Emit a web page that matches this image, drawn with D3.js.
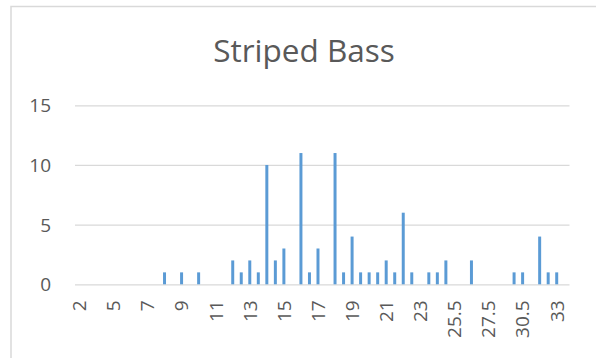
<!DOCTYPE html>
<html>
<head>
<meta charset="utf-8">
<script src="https://cdn.jsdelivr.net/npm/d3@7"></script>
<style>
  html, body { margin: 0; padding: 0; background: #fff; }
  svg { display: block; }
</style>
</head>
<body>
<svg id="chart" width="596" height="358"></svg>
<script>
// Length classes (category labels) and fish counts per class
const categories = [2, 3, 4, 4.5, 5, 5.5, 6, 6.5, 7, 7.5, 8, 8.5, 9, 9.5, 10, 10.5,
  11, 11.5, 12, 12.5, 13, 13.5, 14, 14.5, 15, 15.5, 16, 16.5, 17, 17.5, 18, 18.5,
  19, 19.5, 20, 20.5, 21, 21.5, 22, 22.5, 23, 23.5, 24, 24.5, 25.5, 26, 26.5, 27,
  27.5, 28, 29, 30, 30.5, 31, 31.5, 32, 33, 33.5];
const counts = [0, 0, 0, 0, 0, 0, 0, 0, 0, 0, 1, 0, 1, 0, 1, 0,
  0, 0, 2, 1, 2, 1, 10, 2, 3, 0, 11, 1, 3, 0, 11, 1,
  4, 1, 1, 1, 2, 1, 6, 1, 0, 1, 1, 2, 0, 0, 2, 0,
  0, 0, 0, 1, 1, 0, 4, 1, 1, 0];
const yTicks = [0, 5, 10, 15];
const title = "Striped Bass";

const svg = d3.select("#chart");
const font = "'Open Sans', sans-serif";
const textColor = "#595959";
const gridColor = "#d9d9d9";

// chart frame
svg.append("rect")
  .attr("x", 11).attr("y", 6.5)
  .attr("width", 700).attr("height", 500)
  .attr("fill", "#fff")
  .attr("stroke", gridColor).attr("stroke-width", 1.5);

const plot = { left: 75, right: 569.5, top: 105.3, bottom: 284.3 };

const x = d3.scaleBand()
  .domain(categories.map(String))
  .range([plot.left, plot.right])
  .paddingInner(0.65).paddingOuter(0.325);

const y = d3.scaleLinear().domain([0, 15]).range([plot.bottom, plot.top]);

// horizontal gridlines + y labels
const yAxis = svg.append("g")
  .attr("transform", `translate(${plot.left},0)`)
  .call(d3.axisLeft(y).tickValues(yTicks).tickSize(-(plot.right - plot.left)).tickPadding(24));
yAxis.select(".domain").remove();
yAxis.selectAll(".tick line").attr("stroke", gridColor).attr("stroke-width", 1.3);
yAxis.selectAll(".tick text")
  .attr("font-family", font).attr("font-size", 19).attr("fill", textColor)
  .attr("dy", "0.34em");

// bars
svg.append("g").selectAll("rect")
  .data(categories.map((c, i) => ({ c: String(c), v: counts[i] })))
  .join("rect")
  .attr("x", d => x(d.c))
  .attr("width", x.bandwidth())
  .attr("y", d => y(d.v))
  .attr("height", d => y(0) - y(d.v))
  .attr("fill", "#5b9bd5");

// category axis: every fourth label, rotated
const shown = categories.filter((c, i) => i % 4 === 0).map(String);
const xAxis = svg.append("g")
  .attr("transform", `translate(0,${plot.bottom})`)
  .call(d3.axisBottom(x).tickValues(shown).tickSize(0));
xAxis.select(".domain").remove();
xAxis.selectAll(".tick text")
  .attr("font-family", font).attr("font-size", 19).attr("fill", textColor)
  .attr("transform", "rotate(-90)")
  .attr("text-anchor", "end")
  .attr("x", -16).attr("y", 0).attr("dy", "0.36em");

// title
svg.append("text")
  .attr("x", 304).attr("y", 61.5)
  .attr("text-anchor", "middle")
  .attr("font-family", font).attr("font-size", 31.5)
  .attr("fill", textColor)
  .text(title);
</script>
</body>
</html>
